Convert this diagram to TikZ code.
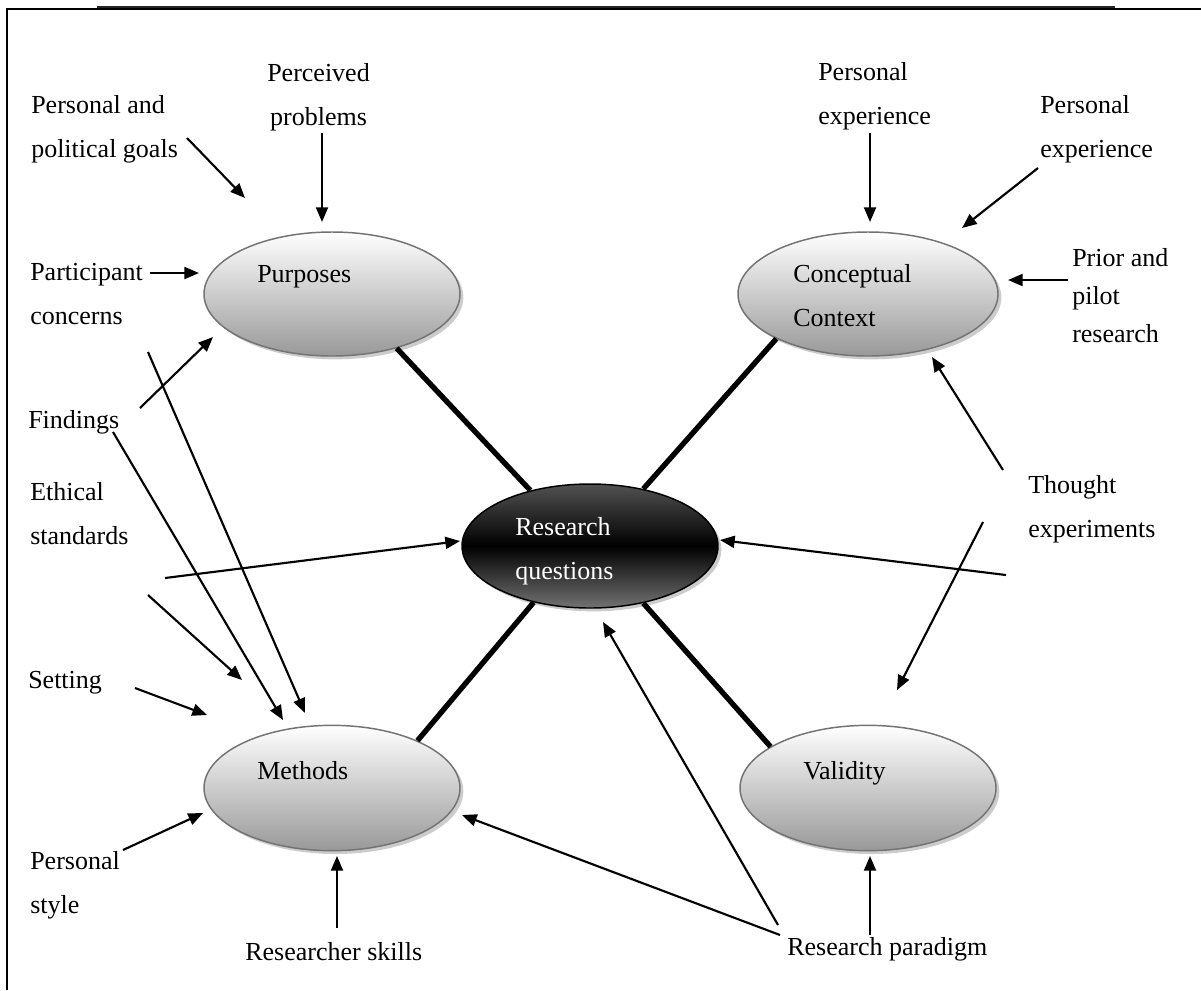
\documentclass[tikz,border=0pt]{standalone}
\usepackage{fontspec}
\setmainfont{Liberation Serif}
\usetikzlibrary{arrows.meta,shapes.geometric,shadows}

% dark centre bubble: grey top, black band, grey bottom
\pgfdeclareverticalshading{coreshade}{100bp}{%
  color(0bp)=(black!55); color(25bp)=(black!55); color(50bp)=(black);
  color(75bp)=(black!68); color(100bp)=(black!68)}

\begin{document}
\begin{tikzpicture}[x=0.75pt,y=-0.75pt,
  lbl/.style={anchor=north west,inner sep=0pt,align=left,
    font=\fontsize{19.5}{33}\selectfont},
  bubble/.style={ellipse,draw=black!55,line width=1.1pt,
    top color=white,bottom color=black!40,
    minimum width=192pt,minimum height=93pt,inner sep=0pt,
    drop shadow={shadow xshift=2.5pt,shadow yshift=-2.5pt,fill=black!25,opacity=0.8}},
  core/.style={ellipse,draw=black,line width=1.1pt,shading=coreshade,
    minimum width=192pt,minimum height=93pt,inner sep=0pt,
    drop shadow={shadow xshift=2.5pt,shadow yshift=-2.5pt,fill=black!25,opacity=0.8}},
  link/.style={line width=4pt},
  arr/.style={line width=1.6pt,-{Triangle[length=11pt,width=9pt]}}]

\useasboundingbox (0,0) rectangle (1201,990);

% frame
\draw[line width=1.5pt] (7,990) -- (7,8.5) -- (1201,8.5);
\draw[line width=1.5pt,black!85] (97,6.5) -- (1115,6.5);

% bubbles
\node[bubble] (purp) at (332,294) {};
\node[bubble,minimum width=195pt] (conc) at (868,294) {};
\node[bubble,minimum height=94pt] (meth) at (332,788) {};
\node[bubble,minimum height=94pt] (vali) at (868,788) {};
\node[core] (rq) at (590,546) {};

% bubble captions
\node[lbl] (purpT) at (257,251) {\strut Purposes};
\node[lbl] (concT) at (793,251) {\strut Conceptual\\Context};
\node[lbl] (methT) at (257,748) {\strut Methods};
\node[lbl] (valiT) at (803,748) {\strut Validity};
\node[lbl,text=white] (rqT) at (515,504) {\strut Research\\questions};

% spokes
\draw[link] (purp.-40) -- (rq.137);
\draw[link] (conc.206) -- (rq.47);
\draw[link] (meth.29) -- (rq.225);
\draw[link] (vali.157) -- (rq.-47);

% influences
\node[lbl] (goals) at (31,82) {\strut Personal and\\political goals};
\node[lbl,align=center] (probl) at (267,50) {\strut Perceived\\problems};
\node[lbl] (partic) at (30,249) {\strut Participant\\concerns};
\node[lbl] (find) at (28,397) {\strut Findings};
\node[lbl] (ethic) at (30,469) {\strut Ethical\\standards};
\node[lbl] (sett) at (28,657) {\strut Setting};
\node[lbl] (pstyle) at (30,838) {\strut Personal\\style};
\node[lbl] (skills) at (245,929) {\strut Researcher skills};
\node[lbl] (parad) at (787,924) {\strut Research paradigm};
\node[lbl] (persA) at (818,49) {\strut Personal\\experience};
\node[lbl] (persB) at (1040,82) {\strut Personal\\experience};
\node[lbl,font=\fontsize{19.5}{28.5}\selectfont] (prior) at (1072,240) {\strut Prior and\\pilot\\research};
\node[lbl] (thought) at (1028,462) {\strut Thought\\experiments};

% arrow end points
\coordinate (g1) at (187,138);   \coordinate (g2) at (245,198);
\coordinate (p1) at (322,133);   \coordinate (p2) at (322,222);
\coordinate (c1) at (150,273);   \coordinate (c2) at (199,273);
\coordinate (f1) at (140,408);   \coordinate (f2) at (213,337);
\coordinate (cm1) at (148,352);  \coordinate (cm2) at (305,713);
\coordinate (fm1) at (113,432);  \coordinate (fm2) at (283,720);
\coordinate (e1) at (165,578);   \coordinate (e2) at (460,541);
\coordinate (em1) at (148,595);  \coordinate (em2) at (242,680);
\coordinate (s1) at (135,688);   \coordinate (s2) at (207,715);
\coordinate (ps1) at (123,850);  \coordinate (ps2) at (203,813);
\coordinate (k1) at (337,928);   \coordinate (k2) at (337,856);
\coordinate (rm1) at (780,935);  \coordinate (rm2) at (462,815);
\coordinate (rq1) at (778,925);  \coordinate (rq2) at (603,622);
\coordinate (rv1) at (870,935);  \coordinate (rv2) at (870,856);
\coordinate (tc1) at (1003,470); \coordinate (tc2) at (932,357);
\coordinate (tq1) at (1006,575); \coordinate (tq2) at (720,540);
\coordinate (tv1) at (983,522);  \coordinate (tv2) at (897,690);
\coordinate (pr1) at (1068,280); \coordinate (pr2) at (1008,280);
\coordinate (xa1) at (870,133);  \coordinate (xa2) at (870,222);
\coordinate (xb1) at (1038,168); \coordinate (xb2) at (962,228);

\draw[arr] (g1) -- (g2);
\draw[arr] (p1) -- (p2);
\draw[arr] (c1) -- (c2);
\draw[arr] (f1) -- (f2);
\draw[arr] (cm1) -- (cm2);
\draw[arr] (fm1) -- (fm2);
\draw[arr] (e1) -- (e2);
\draw[arr] (em1) -- (em2);
\draw[arr] (s1) -- (s2);
\draw[arr] (ps1) -- (ps2);
\draw[arr] (k1) -- (k2);
\draw[arr] (rm1) -- (rm2);
\draw[arr] (rq1) -- (rq2);
\draw[arr] (rv1) -- (rv2);
\draw[arr] (tc1) -- (tc2);
\draw[arr] (tq1) -- (tq2);
\draw[arr] (tv1) -- (tv2);
\draw[arr] (pr1) -- (pr2);
\draw[arr] (xa1) -- (xa2);
\draw[arr] (xb1) -- (xb2);
\end{tikzpicture}
\end{document}
